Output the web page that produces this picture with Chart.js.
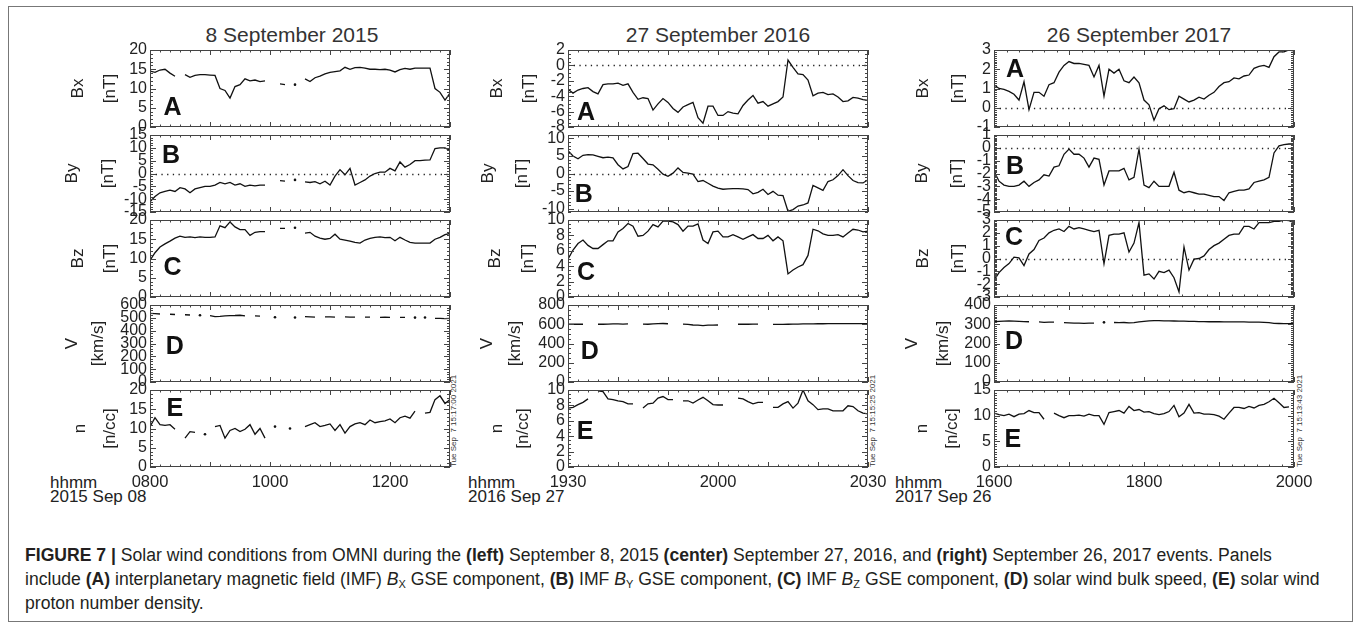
<!DOCTYPE html>
<html>
<head>
<meta charset="utf-8">
<script src="https://cdn.jsdelivr.net/npm/chart.js@4/dist/chart.umd.min.js"></script>
<style>
  body { margin: 0; width: 1354px; height: 623px; background: #fff; position: relative; overflow: hidden;
         font-family: "Liberation Sans", Arial, sans-serif; color: #222; }
  canvas { position: absolute; }
  .frame { position: absolute; left: 8px; top: 6px; width: 1343px; height: 614px; border: 1px solid #777; }
  .title { position: absolute; top: 23px; font-size: 21px; line-height: 24px; transform: translateX(-50%); white-space: nowrap; color: #333; }
  .hh { position: absolute; top: 476px; font-size: 17px; line-height: 14px; white-space: nowrap; }
  .stamp { position: absolute; font-size: 8px; line-height: 9px; white-space: pre; color: #333;
           transform-origin: left top; transform: rotate(-90deg); }
  .caption { position: absolute; left: 25px; top: 543px; font-size: 17.6px; line-height: 24px; white-space: nowrap; color: #231f20; }
  .caption sub { font-size: 11px; line-height: 0; vertical-align: -3px; }
</style>
</head>
<body>
<div class="frame"></div>
<div class="title" style="left:292px">8 September 2015</div>
<div class="title" style="left:718px">27 September 2016</div>
<div class="title" style="left:1139px">26 September 2017</div>
<div class="hh" style="left:50px">hhmm<br>2015 Sep 08</div>
<div class="hh" style="left:468px">hhmm<br>2016 Sep 27</div>
<div class="hh" style="left:895px">hhmm<br>2017 Sep 26</div>
<div class="stamp" style="left:449px; top:467px">Tue Sep  7 15:17:00 2021</div>
<div class="stamp" style="left:868px; top:467px">Tue Sep  7 15:15:25 2021</div>
<div class="stamp" style="left:1295px; top:467px">Tue Sep  7 15:13:43 2021</div>
<div class="caption"><b>FIGURE 7 |</b> Solar wind conditions from OMNI during the <b>(left)</b> September 8, 2015 <b>(center)</b> September 27, 2016, and <b>(right)</b> September 26, 2017 events. Panels<br>include <b>(A)</b> interplanetary magnetic field (IMF) <i>B</i><sub>X</sub> GSE component, <b>(B)</b> IMF <i>B</i><sub>Y</sub> GSE component, <b>(C)</b> IMF <i>B</i><sub>Z</sub> GSE component, <b>(D)</b> solar wind bulk speed, <b>(E)</b> solar wind<br>proton number density.</div>

<script>
// sample times, minutes after the start of each window
const t2015 = [0,5,10,15,20,25,30,35,40,45,50,55,60,65,70,75,80,85,90,95,100,105,110,115,120,125,130,135,140,145,150,155,160,165,170,175,180,185,190,195,200,205,210,215,220,225,230,235,240,245,250,255,260,265,270,275,280,285,290,295,300];
const t2016 = [0,1,2,3,4,5,6,7,8,9,10,11,12,13,14,15,16,17,18,19,20,21,22,23,24,25,26,27,28,29,30,31,32,33,34,35,36,37,38,39,40,41,42,43,44,45,46,47,48,49,50,51,52,53,54,55,56,57,58,59,60];
const t2017 = [0,4,8,12,16,20,24,28,32,36,40,44,48,52,56,60,64,68,72,76,80,84,88,92,96,100,104,108,112,116,120,124,128,132,136,140,144,148,152,156,160,164,168,172,176,180,184,188,192,196,200,204,208,212,216,220,224,228,232,236,240];

// x tick labels
const xTickPos2015 = [0, 120, 240];
const xTickText2015 = ['0800', '1000', '1200'];
const xTickPos2016 = [0, 30, 60];
const xTickText2016 = ['1930', '2000', '2030'];
const xTickPos2017 = [0, 120, 240];
const xTickText2017 = ['1600', '1800', '2000'];

// 8 September 2015
const bx2015 = [14.5,14.2,14.8,15.0,14.0,13.2,null,13.6,12.9,13.4,13.6,13.6,13.5,13.4,10.0,9.5,7.5,10.5,11.0,12.5,12.0,12.2,11.8,12.0,null,null,11.2,11.0,null,11.0,null,12.5,11.8,12.8,13.2,13.8,14.2,14.4,14.6,15.5,15.0,15.4,15.5,15.3,15.0,15.0,14.9,15.0,14.8,14.3,14.9,15.2,15.0,15.3,15.3,15.3,15.3,10.0,9.0,7.0,8.8];
const by2015 = [-11,-9,-7.5,-7,-6.5,-7,-5.5,-6,-7.5,-6,-5.5,-5,-5,-4.5,-3.5,-4,-3.5,-4.5,-4,-5,-4.5,-4.8,-4.5,-4.5,null,null,-2.8,-3,null,-2.5,null,-3.3,-3.5,-3.2,-4,-3,-4.5,-1,1.5,-0.5,2,-4.5,-3.5,-2.5,-1,0,0.5,0.5,2,1,4.5,2.5,3.5,5,5,5.2,5.3,9.7,10,10,9];
const bz2015 = [9.5,11.5,13,13.8,14.5,15.3,15.8,15.5,15.6,15.4,15.6,15.5,15.5,15.6,18.5,18.0,19.5,18.2,17.5,17.5,16.0,16.8,17.0,17.0,null,null,17.8,17.8,null,18.0,null,16.6,16.8,15.8,15.3,15.0,15.2,16.3,15.0,14.8,14.5,14.2,14.0,14.8,15.2,15.5,15.6,15.4,15.5,14.6,15.5,14.8,14.2,14.0,14.0,14.0,14.0,15.0,15.5,16.2,16.5];
const v2015 = [535,533,530,null,528,526,null,524,522,null,520,null,518,510,512,515,517,518,520,516,null,515,513,null,null,505,null,null,null,503,null,510,508,506,null,508,507,506,null,507,506,505,null,506,505,null,504,505,504,null,504,503,null,502,null,503,null,496,495,494,496];
const n2015 = [10.5,12.8,11.0,10.8,11.0,9.8,null,7.5,9.2,9.0,null,8.5,null,10.5,10.8,7.5,9.5,10.0,9.2,9.8,11.0,8.5,10.0,7.5,null,10.5,null,null,10.0,null,null,10.5,11.0,11.5,10.5,10.8,11.2,9.5,11.0,8.8,10.5,11.2,11.5,11.0,12.2,11.5,11.8,12.0,12.5,11.5,12.8,13.2,12.7,14.5,null,14.0,14.2,17.5,18.5,16.5,17.5];

// 27 September 2016
const bx2016 = [-3.1,-3.6,-3.2,-3.0,-2.9,-3.4,-3.7,-2.5,-2.4,-2.4,-2.3,-2.6,-2.4,-3.5,-4.4,-4.2,-4.3,-5.8,-5.0,-4.3,-4.8,-5.6,-6.1,-5.4,-5.1,-4.8,-6.8,-7.5,-5.3,-5.3,-6.5,-6.5,-6.0,-6.2,-6.3,-5.2,-4.5,-3.9,-4.9,-4.7,-5.3,-5.0,-4.7,-4.1,0.7,-0.25,-1.1,-1.2,-1.9,-3.95,-3.6,-3.5,-3.8,-3.7,-4.1,-4.7,-4.6,-4.15,-4.25,-4.45,-4.55];
const by2016 = [6.5,5.0,4.2,5.2,5.4,5.3,4.9,4.5,4.7,4.5,2.5,1.3,2.0,5.7,5.8,4.3,2.7,2.5,1.2,-0.2,-0.8,0.1,1.6,0.3,0.1,-0.2,-2.3,-2.0,-2.8,-3.6,-4.2,-4.5,-4.4,-4.3,-4.3,-4.4,-4.6,-5.8,-5.4,-4.5,-6.0,-5.1,-6.2,-6.3,-10.8,-10.3,-9.3,-9.0,-8.4,-3.4,-4.1,-4.8,-2.3,-1.8,-0.6,1.1,-0.6,-2.0,-2.6,-2.7,-1.8];
const bz2016 = [4.9,6.1,6.95,7.4,6.7,6.3,6.3,6.8,7.3,7.3,8.45,8.9,9.55,9.2,7.9,8.0,8.55,9.4,9.1,9.85,9.85,9.75,9.4,8.55,9.2,9.2,9.5,7.4,6.95,8.45,8.55,7.8,7.8,8.1,7.8,7.5,7.8,8.1,7.6,7.6,8.0,7.3,7.8,7.3,3.0,3.5,3.9,4.2,5.4,8.8,8.6,8.2,8.0,8.0,8.1,7.8,8.3,8.8,8.7,8.45,8.55];
const v2016 = [600,600,601,600,null,null,600,600,602,603,603,602,603,null,null,601,600,604,606,608,605,null,null,602,598,592,590,585,590,590,592,null,null,null,600,600,600,601,601,null,null,598,598,599,600,601,602,603,604,604,605,605,606,606,606,607,607,606,606,607,607];
const n2016 = [7.65,7.75,8.1,8.4,8.85,null,9.9,9.8,8.85,8.75,8.6,8.5,8.2,8.2,null,7.65,8.2,8.3,8.95,9.15,8.75,8.75,null,8.6,8.6,8.3,8.7,9.05,8.6,8.1,8.05,8.05,null,null,8.95,8.85,8.5,8.2,8.4,8.4,null,7.75,7.75,8.2,8.5,7.65,8.3,10.0,8.6,8.1,7.45,7.55,7.55,7.3,7.3,7.3,7.95,7.85,7.3,7.0,6.9];

// 26 September 2017
const bx2017 = [1.2,1.0,0.95,0.85,0.7,0.4,1.35,-0.1,0.8,0.8,0.6,1.2,1.3,1.85,2.2,2.4,2.3,2.3,2.25,2.2,1.6,2.2,0.6,2.0,1.8,2.0,1.4,1.3,1.6,1.3,0.4,0.15,-0.65,-0.05,0.1,-0.1,-0.05,0.6,0.45,0.3,0.4,0.55,0.45,0.65,0.8,1.1,1.3,1.35,1.55,1.5,1.65,1.7,2.05,2.15,2.2,2.1,2.65,2.9,2.9,3.0,2.95];
const by2017 = [-1.8,-2.6,-2.9,-3.0,-3.0,-2.9,-2.6,-3.0,-2.7,-2.5,-2.1,-2.2,-1.5,-1.4,-0.5,-0.1,-0.5,-0.5,-0.8,-1.5,-0.8,-0.9,-2.9,-1.8,-1.8,-1.8,-1.6,-2.5,-2.3,-0.1,-2.9,-3.1,-2.6,-3.0,-3.0,-3.0,-1.9,-3.3,-3.5,-3.4,-3.5,-3.6,-3.6,-3.7,-3.8,-3.8,-4.1,-3.5,-3.4,-3.3,-3.3,-3.2,-2.7,-2.6,-2.5,-2.3,-0.4,0.15,0.25,0.3,0.3];
const bz2017 = [-1.7,-1.1,-0.7,-0.4,0.1,0.05,-0.55,0.35,0.7,1.4,1.6,2.0,2.2,2.3,2.1,2.5,2.3,2.4,2.3,2.2,2.1,2.2,-0.4,1.8,1.9,1.9,2.0,0.5,1.2,2.8,-1.3,-1.2,-1.6,-1.0,-1.1,-0.9,-1.5,-2.6,0.9,-0.9,-0.05,0.0,0.2,0.7,1.0,1.2,1.5,1.8,1.9,1.9,2.5,2.5,2.3,2.8,2.8,2.8,2.9,2.9,3.0,2.95,2.8];
const v2017 = [313,315,316,317,316,315,314,313,null,312,310,311,311,null,308,307,306,306,305,306,306,null,310,null,309,308,309,307,308,312,315,318,319,319,318,318,317,316,316,315,315,314,314,313,313,313,312,312,312,312,312,311,311,311,310,308,305,304,303,303,305];
const n2017 = [10.5,10.2,10.0,10.3,9.8,10.3,10.4,11.0,10.6,10.6,9.3,null,10.5,10.0,9.6,10.0,10.0,10.1,9.9,10.3,10.0,10.0,8.3,10.6,10.8,11.0,10.5,11.8,11.0,11.2,10.7,10.8,10.4,10.2,10.4,10.8,12.0,9.8,10.5,12.2,10.5,10.6,10.3,10.3,10.2,9.9,9.3,10.5,11.6,11.6,11.4,11.8,11.5,12.0,12.2,12.7,13.4,12.5,11.6,11.7,null];

// y axis tick labels
const yBx2015 = [0, 5, 10, 15, 20];
const yBy2015 = [-15, -10, -5, 0, 5, 10, 15];
const yBz2015 = [0, 5, 10, 15, 20];
const yV2015 = [0, 100, 200, 300, 400, 500, 600];
const yN2015 = [0, 5, 10, 15, 20];
const yBx2016 = [-8, -6, -4, -2, 0, 2];
const yBy2016 = [-10, -5, 0, 5, 10];
const yBz2016 = [0, 2, 4, 6, 8, 10];
const yV2016 = [0, 200, 400, 600, 800];
const yN2016 = [0, 2, 4, 6, 8, 10];
const yBx2017 = [-1, 0, 1, 2, 3];
const yBy2017 = [-5, -4, -3, -2, -1, 0, 1];
const yBz2017 = [-3, -2, -1, 0, 1, 2, 3];
const yV2017 = [0, 100, 200, 300, 400];
const yN2017 = [0, 5, 10, 15];

Chart.defaults.font.family = '"Liberation Sans", Arial, sans-serif';
Chart.defaults.color = '#222';

const cols = [
  { left: 20,  plotLeft: 150, plotRight: 450,  t: t2015, xMax: 300, xMajor: 60, xMinor: 10, xPos: xTickPos2015, xText: xTickText2015 },
  { left: 440, plotLeft: 568, plotRight: 868,  t: t2016, xMax: 60,  xMajor: 10, xMinor: 2,  xPos: xTickPos2016, xText: xTickText2016 },
  { left: 880, plotLeft: 994, plotRight: 1294, t: t2017, xMax: 240, xMajor: 60, xMinor: 10, xPos: xTickPos2017, xText: xTickText2017 }
];
const rowTops = [50, 135, 220, 305, 390];
const rowH = 77;
const canvasW = 460;

const panels = [
  { col: 0, row: 0, y: bx2015, min: 0,   max: 20,  ticks: yBx2015, minor: 1,   zero: false, title: ['Bx', '[nT]'],   tx: [78, 110],   letter: 'A', lx: 0.075, ly: 0.76 },
  { col: 0, row: 1, y: by2015, min: -15, max: 15,  ticks: yBy2015, minor: 1,   zero: true,  title: ['By', '[nT]'],   tx: [72, 108],   letter: 'B', lx: 0.07,  ly: 0.27 },
  { col: 0, row: 2, y: bz2015, min: 0,   max: 20,  ticks: yBz2015, minor: 1,   zero: false, title: ['Bz', '[nT]'],   tx: [78, 110],   letter: 'C', lx: 0.075, ly: 0.62 },
  { col: 0, row: 3, y: v2015,  min: 0,   max: 600, ticks: yV2015,  minor: 20,  zero: false, title: ['V', '[km/s]'],  tx: [72, 98],    letter: 'D', lx: 0.083, ly: 0.55 },
  { col: 0, row: 4, y: n2015,  min: 0,   max: 20,  ticks: yN2015,  minor: 1,   zero: false, title: ['n', '[n/cc]'],  tx: [80, 110],   letter: 'E', lx: 0.083, ly: 0.25 },
  { col: 1, row: 0, y: bx2016, min: -8,  max: 2,   ticks: yBx2016, minor: 0.5, zero: true,  title: ['Bx', '[nT]'],   tx: [497, 529],  letter: 'A', lx: 0.06,  ly: 0.82 },
  { col: 1, row: 1, y: by2016, min: -11, max: 11,  ticks: yBy2016, minor: 1,   zero: true,  title: ['By', '[nT]'],   tx: [488, 522],  letter: 'B', lx: 0.053, ly: 0.78 },
  { col: 1, row: 2, y: bz2016, min: 0,   max: 10,  ticks: yBz2016, minor: 0.5, zero: false, title: ['Bz', '[nT]'],   tx: [495, 528],  letter: 'C', lx: 0.06,  ly: 0.69 },
  { col: 1, row: 3, y: v2016,  min: 0,   max: 800, ticks: yV2016,  minor: 50,  zero: false, title: ['V', '[km/s]'],  tx: [487, 515],  letter: 'D', lx: 0.073, ly: 0.61 },
  { col: 1, row: 4, y: n2016,  min: 0,   max: 10,  ticks: yN2016,  minor: 0.5, zero: false, title: ['n', '[n/cc]'],  tx: [497, 523],  letter: 'E', lx: 0.057, ly: 0.55 },
  { col: 2, row: 0, y: bx2017, min: -1,  max: 3,   ticks: yBx2017, minor: 0.1, zero: true,  title: ['Bx', '[nT]'],   tx: [923, 958],  letter: 'A', lx: 0.07,  ly: 0.26 },
  { col: 2, row: 1, y: by2017, min: -5,  max: 1,   ticks: yBy2017, minor: 0.1, zero: true,  title: ['By', '[nT]'],   tx: [922, 957],  letter: 'B', lx: 0.07,  ly: 0.42 },
  { col: 2, row: 2, y: bz2017, min: -3,  max: 3,   ticks: yBz2017, minor: 0.1, zero: true,  title: ['Bz', '[nT]'],   tx: [923, 958],  letter: 'C', lx: 0.067, ly: 0.24 },
  { col: 2, row: 3, y: v2017,  min: 0,   max: 400, ticks: yV2017,  minor: 10,  zero: false, title: ['V', '[km/s]'],  tx: [912, 943],  letter: 'D', lx: 0.067, ly: 0.48 },
  { col: 2, row: 4, y: n2017,  min: 0,   max: 15,  ticks: yN2017,  minor: 0.5, zero: false, title: ['n', '[n/cc]'],  tx: [922, 952],  letter: 'E', lx: 0.063, ly: 0.65 }
];

// box with inward ticks on all four sides, dotted zero line, panel letter
const idlBox = {
  id: 'idlBox',
  beforeDatasetsDraw(chart, args, o) {
    if (!o.zero) return;
    const { ctx, chartArea: a } = chart;
    const py = Math.round(chart.scales.y.getPixelForValue(0)) + 0.5;
    ctx.save();
    ctx.strokeStyle = '#222';
    ctx.lineWidth = 1.3;
    ctx.setLineDash([1.3, 4.4]);
    ctx.beginPath();
    ctx.moveTo(a.left, py);
    ctx.lineTo(a.right, py);
    ctx.stroke();
    ctx.restore();
  },
  afterDatasetsDraw(chart, args, o) {
    const { ctx, chartArea: a } = chart;
    const { x, y } = chart.scales;
    ctx.save();
    ctx.strokeStyle = '#444';
    ctx.lineWidth = 1;
    ctx.strokeRect(a.left + 0.5, a.top + 0.5, a.right - a.left - 1, a.bottom - a.top - 1);
    ctx.beginPath();
    const nx = Math.round((x.max - x.min) / o.xMinor);
    for (let k = 0; k <= nx; k++) {
      const v = x.min + k * o.xMinor;
      const major = Math.abs(v / o.xMajor - Math.round(v / o.xMajor)) < 1e-6;
      const len = major ? 5 : 2.5;
      const px = Math.round(x.getPixelForValue(v)) + 0.5;
      ctx.moveTo(px, a.bottom); ctx.lineTo(px, a.bottom - len);
      ctx.moveTo(px, a.top); ctx.lineTo(px, a.top + len);
    }
    const ny = Math.round((y.max - y.min) / o.yMinor);
    for (let k = 0; k <= ny; k++) {
      const v = y.min + k * o.yMinor;
      const major = o.yTicks.some(t => Math.abs(t - v) < 1e-6);
      const len = major ? 6 : 3;
      const py = Math.round(y.getPixelForValue(v)) + 0.5;
      ctx.moveTo(a.left, py); ctx.lineTo(a.left + len, py);
      ctx.moveTo(a.right, py); ctx.lineTo(a.right - len, py);
    }
    ctx.stroke();
    ctx.font = 'bold 25px "Liberation Sans", Arial, sans-serif';
    ctx.fillStyle = '#111';
    ctx.textAlign = 'center';
    ctx.textBaseline = 'middle';
    ctx.fillText(o.letter, a.left + o.lx * (a.right - a.left), a.top + o.ly * (a.bottom - a.top));
    ctx.restore();
  }
};

// draw a lone sample (gaps on both sides) as a dot
function loneDot(ctx) {
  const d = ctx.dataset.data;
  const i = ctx.dataIndex;
  const prev = i > 0 ? d[i - 1].y : null;
  const next = i < d.length - 1 ? d[i + 1].y : null;
  return d[i].y !== null && prev === null && next === null ? 1.3 : 0;
}

panels.forEach(p => {
  const col = cols[p.col];
  const last = p.row === 4;
  const cv = document.createElement('canvas');
  cv.width = canvasW;
  cv.height = 10 + rowH + (last ? 34 : 10);
  cv.style.left = col.left + 'px';
  cv.style.top = (rowTops[p.row] - 10) + 'px';
  document.body.appendChild(cv);

  const lh = p.tx[1] - p.tx[0];
  const titlePad = p.tx[0] - col.left - lh / 2;

  new Chart(cv, {
    type: 'line',
    data: {
      datasets: [{
        data: col.t.map((m, i) => ({ x: m, y: p.y[i] })),
        borderColor: '#111',
        borderWidth: 1.3,
        tension: 0,
        spanGaps: false,
        pointRadius: loneDot,
        pointBackgroundColor: '#111',
        pointBorderWidth: 0
      }]
    },
    options: {
      responsive: false,
      animation: false,
      devicePixelRatio: 1,
      events: [],
      layout: { padding: { left: 0, right: col.left + canvasW - col.plotRight, top: 10, bottom: last ? 0 : 10 } },
      plugins: {
        legend: { display: false },
        tooltip: { enabled: false },
        idlBox: { zero: p.zero, letter: p.letter, lx: p.lx, ly: p.ly, yTicks: p.ticks, yMinor: p.minor, xMajor: col.xMajor, xMinor: col.xMinor }
      },
      scales: {
        x: {
          type: 'linear',
          min: 0,
          max: col.xMax,
          grid: { display: false, drawTicks: false },
          border: { display: false },
          ticks: {
            display: last,
            autoSkip: false,
            maxRotation: 0,
            padding: 6,
            font: { size: 16.5 },
            callback: v => col.xText[col.xPos.indexOf(v)]
          },
          afterBuildTicks: s => { s.ticks = col.xPos.map(v => ({ value: v })); },
          afterFit: s => { s.height = last ? 34 : 0; s.paddingLeft = 0; s.paddingRight = 0; }
        },
        y: {
          min: p.min,
          max: p.max,
          grid: { display: false, drawTicks: false },
          border: { display: false },
          ticks: { autoSkip: false, padding: 3, font: { size: 16 }, callback: v => String(v) },
          afterBuildTicks: s => { s.ticks = p.ticks.map(v => ({ value: v })); },
          afterFit: s => { s.width = col.plotLeft - col.left; s.paddingTop = 0; s.paddingBottom = 0; },
          title: {
            display: true,
            text: p.title,
            color: '#222',
            font: { size: 17, lineHeight: lh + 'px' },
            padding: { top: titlePad, bottom: 0 }
          }
        }
      }
    },
    plugins: [idlBox]
  });
});
</script>
</body>
</html>
